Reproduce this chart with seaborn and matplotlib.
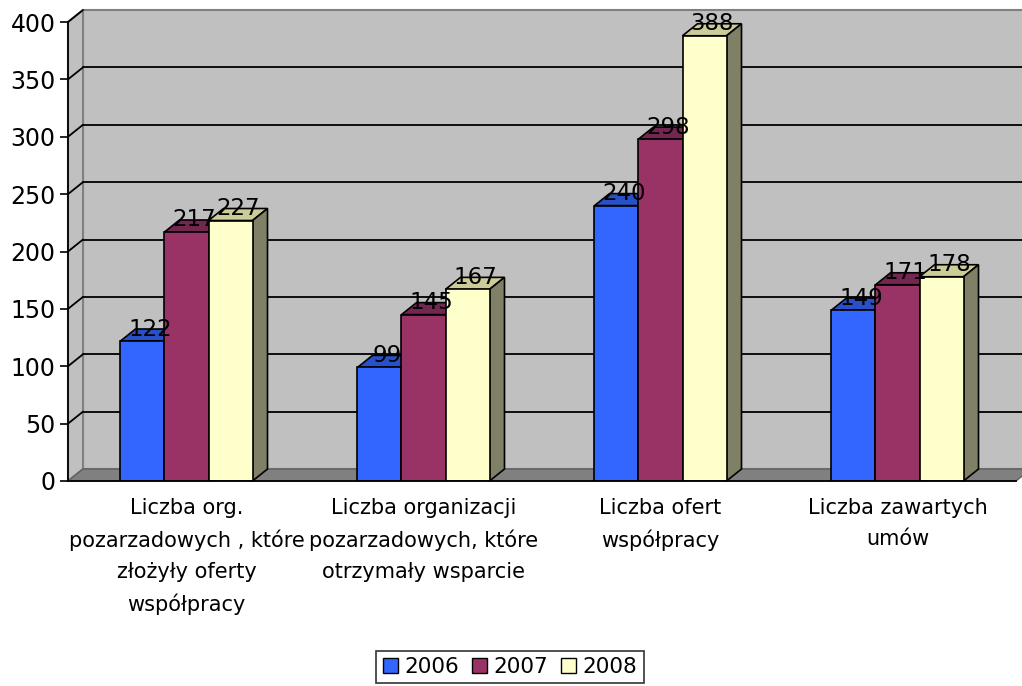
import matplotlib
matplotlib.use("Agg")
import matplotlib.pyplot as plt
import seaborn as sns
import pandas as pd
import numpy as np
from matplotlib.patches import Polygon, Patch

categories = ["Liczba org.\npozarzadowych , które\nzłożyły oferty\nwspółpracy",
              "Liczba organizacji\npozarzadowych, które\notrzymały wsparcie",
              "Liczba ofert\nwspółpracy",
              "Liczba zawartych\numów"]
years = ["2006", "2007", "2008"]
v2006 = [122, 99, 240, 149]
v2007 = [217, 145, 298, 171]
v2008 = [227, 167, 388, 178]
yticks = [0, 50, 100, 150, 200, 250, 300, 350, 400]

front = {"2006": "#3366FF", "2007": "#993366", "2008": "#FFFFCC"}
topc = {"2006": "#2850C8", "2007": "#732650", "2008": "#CCCC99"}
sidec = {"2006": "#1F3D99", "2007": "#5C1F40", "2008": "#808066"}

rows = []
for ser, vals in zip(years, [v2006, v2007, v2008]):
    for c, v in zip(categories, vals):
        rows.append({"cat": c, "year": ser, "val": v})
df = pd.DataFrame(rows)

sns.set_style("white")
plt.rcParams['font.family'] = ['DejaVu Sans']
plt.rcParams['text.color'] = 'black'
plt.rcParams['xtick.color'] = 'black'
plt.rcParams['ytick.color'] = 'black'
plt.rcParams['axes.labelcolor'] = 'black'

fig = plt.figure(figsize=(10.22, 6.86), dpi=100)
ax = fig.add_axes([68/1022, 205/686, 948/1022, 459/686])
ax.patch.set_visible(False)

sns.barplot(data=df, x="cat", y="val", hue="year", palette=front, width=0.557,
            ax=ax, edgecolor="black", linewidth=1.2, legend=False, errorbar=None,
            saturation=1)

ax.set_xlim(-0.5, 3.5)
ax.set_ylim(0, 400)
dx = 15 / 237.0
dy = 12 * 400 / 459.0

# walls
back = Polygon([(-0.5 + dx, dy), (3.5 + dx, dy), (3.5 + dx, 400 + dy), (-0.5 + dx, 400 + dy)],
               closed=True, facecolor="#C0C0C0", edgecolor="#808080", lw=1.5, zorder=0, clip_on=False)
ax.add_patch(back)
side = Polygon([(-0.5, 0), (-0.5 + dx, dy), (-0.5 + dx, 400 + dy), (-0.5, 400)],
               closed=True, facecolor="#C0C0C0", edgecolor="#808080", lw=1.5, zorder=0.5, clip_on=False)
ax.add_patch(side)
floor = Polygon([(-0.5, 0), (3.5, 0), (3.5 + dx, dy), (-0.5 + dx, dy)],
                closed=True, facecolor="#808080", edgecolor="#606060", lw=1, zorder=0.6, clip_on=False)
ax.add_patch(floor)
for t in yticks[1:-1]:
    ax.plot([-0.5 + dx, 3.5 + dx], [t + dy, t + dy], color="black", lw=1.3, zorder=0.8, clip_on=False)
for t in yticks[1:]:
    ax.plot([-0.5, -0.5 + dx], [t, t + dy], color="black", lw=1.3, zorder=0.8, clip_on=False)

# 3D faces and labels
patches = list(ax.patches)
bars = [p for p in patches if p not in (back, side, floor)]
bars = [p for p in bars if p.get_height() > 0]
for i, p in enumerate(bars):
    k = i // len(categories)
    yr = years[k]
    x0 = p.get_x(); w = p.get_width(); h = p.get_height()
    p.set_zorder(4 + 2 * k)
    top = Polygon([(x0, h), (x0 + w, h), (x0 + w + dx, h + dy), (x0 + dx, h + dy)],
                  closed=True, facecolor=topc[yr], edgecolor="black", lw=1.2,
                  zorder=3 + 2 * k, clip_on=False)
    sd = Polygon([(x0 + w, 0), (x0 + w + dx, dy), (x0 + w + dx, h + dy), (x0 + w, h)],
                 closed=True, facecolor=sidec[yr], edgecolor="black", lw=1.2,
                 zorder=3 + 2 * k, clip_on=False)
    ax.add_patch(top); ax.add_patch(sd)
    ax.text(x0 + w / 2 + dx / 2, h + dy, f"{int(round(h))}", ha="center", va="center",
            fontsize=16.5, color="black", zorder=20, clip_on=False)

ax.set_xlabel(""); ax.set_ylabel("")
ax.set_yticks(yticks)
ax.set_yticklabels([str(t) for t in yticks], fontsize=17)
ax.set_xticks(range(4))
ax.set_xticklabels(categories, fontsize=15, linespacing=1.68, va="top")
ax.set_xticks([-0.5, 0.5, 1.5, 2.5, 3.5], minor=True)
ax.tick_params(axis="x", which="major", length=0, pad=12)
ax.tick_params(axis="x", which="minor", length=6, width=1.2, color="black", direction="out")
ax.tick_params(axis="y", length=6, width=1.2, color="black", direction="out", left=True, pad=3)
for s in ["top", "right"]:
    ax.spines[s].set_visible(False)
for s in ["left", "bottom"]:
    ax.spines[s].set_color("black")
    ax.spines[s].set_linewidth(1.3)
    ax.spines[s].set_zorder(15)

handles = [Patch(facecolor=front[y], edgecolor="black", label=y) for y in years]
leg = fig.legend(handles=handles, loc="center", bbox_to_anchor=(510/1022, 1 - 667/686), ncol=3,
                 frameon=True, fontsize=15.5, handlelength=0.7, handleheight=0.7,
                 handletextpad=0.3, columnspacing=0.6, borderpad=0.3, fancybox=False)
leg.get_frame().set_edgecolor("black")
leg.get_frame().set_linewidth(1.2)

fig.savefig("out.png", dpi=100)
